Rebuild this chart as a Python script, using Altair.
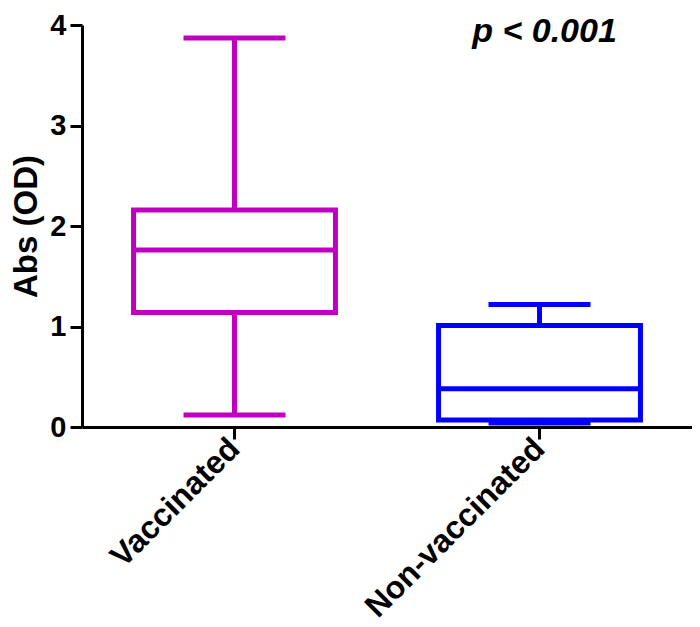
import altair as alt
import pandas as pd

groups = ["Vaccinated", "Non-vaccinated"]
q1 = [1.14, 0.07]
median = [1.76, 0.38]
q3 = [2.16, 1.01]
wmin = [0.12, 0.04]
wmax = [3.87, 1.22]
colors = ["#C000C0", "#0000FF"]
y_ticks = [0, 1, 2, 3, 4]
p_label = "p < 0.001"

df = pd.DataFrame({"group": groups, "q1": q1, "median": median, "q3": q3,
                   "wmin": wmin, "wmax": wmax})

FONT = "Liberation Sans"
SW = 5

xscale = alt.Scale(domain=groups, paddingInner=0, paddingOuter=0)
yscale = alt.Scale(domain=[0, 4], nice=False)
cscale = alt.Scale(domain=groups, range=colors)

x_enc = alt.X("group:N", scale=xscale, sort=groups, title=None,
              axis=alt.Axis(labelAngle=-45, labelAlign="right", labelBaseline="middle",
                            labelFont=FONT, labelFontSize=32, labelFontWeight="bold",
                            labelColor="black", domainColor="black", domainWidth=3,
                            tickColor="black", tickWidth=3, tickSize=12, labelPadding=4,
                            labelLimit=0))
y_axis = alt.Axis(values=y_ticks, format="d", labelFont=FONT, labelFontSize=29,
                  labelFontWeight="bold",
                  labelColor="black", domainColor="black", domainWidth=3,
                  tickColor="black", tickWidth=3, tickSize=12, labelPadding=4,
                  title="Abs (OD)", titleFont=FONT, titleFontSize=33, titleFontWeight="bold",
                  titleColor="black", titlePadding=6, grid=False)

base = alt.Chart(df)
color = alt.Color("group:N", scale=cscale, legend=None)

upper = base.mark_rule(strokeWidth=SW, opacity=1).encode(
    x=x_enc, y=alt.Y("q3:Q", scale=yscale, axis=y_axis), y2="wmax:Q", color=color)
lower = base.mark_rule(strokeWidth=SW, opacity=1).encode(
    x=x_enc, y=alt.Y("wmin:Q", scale=yscale, axis=y_axis), y2="q1:Q", color=color)
box = base.mark_bar(fill="white", strokeWidth=SW, opacity=1,
                    width=alt.RelativeBandSize(0.662)).encode(
    x=x_enc, y=alt.Y("q1:Q", scale=yscale, axis=y_axis), y2="q3:Q",
    stroke=alt.Stroke("group:N", scale=cscale, legend=None))
med = base.mark_tick(thickness=SW, size=202, opacity=1).encode(
    x=x_enc, y=alt.Y("median:Q", scale=yscale, axis=y_axis), color=color)
capt = base.mark_tick(thickness=SW, size=102, opacity=1).encode(
    x=x_enc, y=alt.Y("wmax:Q", scale=yscale, axis=y_axis), color=color)
capb = base.mark_tick(thickness=SW, size=102, opacity=1).encode(
    x=x_enc, y=alt.Y("wmin:Q", scale=yscale, axis=y_axis), color=color)

pdf = pd.DataFrame({"group": [groups[1]], "y": [3.93], "label": [p_label]})
ptext = alt.Chart(pdf).mark_text(font=FONT, fontSize=34, fontWeight="bold", fontStyle="italic",
                                 color="black", align="center", baseline="middle", dx=5).encode(
    x=x_enc, y=alt.Y("y:Q", scale=yscale, axis=y_axis), text="label:N")

chart = alt.layer(upper, lower, capt, capb, box, med, ptext).properties(
    width=610, height=402,
    autosize=alt.AutoSizeParams(type="none"),
    padding={"left": 74, "top": 17, "right": 0, "bottom": 200},
    background="white"
).configure_view(stroke=None)

chart.save("out.html", embed_options={"renderer": "svg", "actions": False})
